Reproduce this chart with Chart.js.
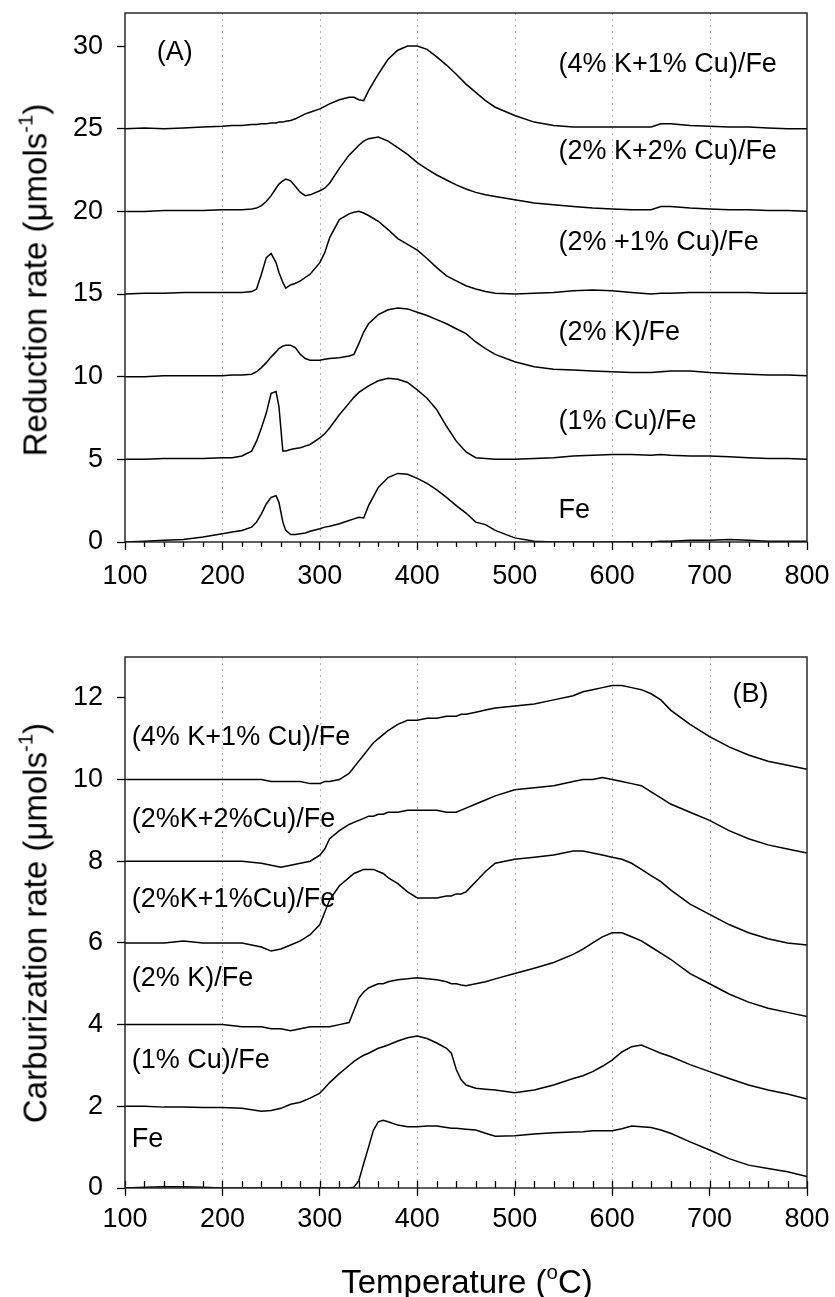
<!DOCTYPE html>
<html>
<head>
<meta charset="utf-8">
<script src="https://cdn.jsdelivr.net/npm/chart.js@4.4.1/dist/chart.umd.min.js"></script>
<style>
  body { margin:0; background:#fff; width:835px; height:1297px; position:relative; overflow:hidden;
         font-family:"Liberation Sans", Arial, sans-serif; }
  canvas { position:absolute; left:0; }
  #chartA { top:0; }
  #chartB { top:600px; }
  .title { position:absolute; white-space:nowrap; color:#000; font-size:33px; line-height:1;
           transform:translate(-50%,-50%); }
  .title sup { font-size:0.62em; position:relative; top:-0.15em; vertical-align:top; }
  .ytitle { transform:translate(-50%,-50%) rotate(-90deg); }
</style>
</head>
<body>
<canvas id="chartA" width="835" height="600"></canvas>
<canvas id="chartB" width="835" height="697"></canvas>
<div class="title ytitle" style="left:35px;top:280px;">Reduction rate (&mu;mols<sup>-1</sup>)</div>
<div class="title ytitle" style="left:35px;top:923px;">Carburization rate (&mu;mols<sup>-1</sup>)</div>
<div class="title" style="left:467px;top:1281px;">Temperature (<sup>o</sup>C)</div>
<script>
// panel A: reduction rate, curves offset by 5
var tempsA = [100,120,140,160,180, 200,210,220,230,235, 240,245,250,255,258, 262,265,270,275,280,
              285,290,300,305,310, 320,330,335,340,345, 350,360,370,380,390, 400,410,420,430,440,
              450,460,470,480,500, 520,540,560,580,600, 620,640,650,660,680, 700,720,740,760,780, 800];
var redK4Cu1 = [25.0,25.05,25.0,25.05,25.1, 25.15,25.2,25.2,25.25,25.25, 25.3,25.3,25.35,25.35,25.4,
                25.4,25.45,25.5,25.6,25.75, 25.9,26.0,26.2,26.35,26.5, 26.75,26.9,26.9,26.75,26.7,
                27.3,28.3,29.2,29.75,30.0, 30.0,29.8,29.35,28.85,28.3, 27.7,27.2,26.7,26.3,25.8,
                25.4,25.2,25.1,25.1,25.1, 25.1,25.1,25.3,25.3,25.2, 25.15,25.1,25.1,25.05,25.0, 25.0];
var redK2Cu2 = [20.0,20.0,20.05,20.05,20.05, 20.1,20.1,20.1,20.15,20.2, 20.35,20.6,20.95,21.4,21.65,
                21.85,21.95,21.85,21.5,21.15, 20.95,21.0,21.25,21.4,21.7, 22.6,23.4,23.7,24.0,24.25,
                24.4,24.5,24.25,23.85,23.45, 22.95,22.55,22.2,21.9,21.6, 21.35,21.15,21.0,20.9,20.7,
                20.5,20.4,20.3,20.2,20.15, 20.1,20.1,20.3,20.3,20.2, 20.15,20.1,20.1,20.05,20.05, 20.0];
var redK2Cu1 = [15.0,15.05,15.05,15.1,15.1, 15.1,15.1,15.1,15.15,15.3, 16.2,17.2,17.45,16.9,16.3,
                15.7,15.35,15.55,15.65,15.8, 16.0,16.2,16.9,17.5,18.4, 19.5,19.85,19.95,20.0,19.9,
                19.75,19.4,18.9,18.35,18.0, 17.65,17.15,16.6,16.1,15.8, 15.5,15.3,15.15,15.05,15.0,
                15.05,15.1,15.2,15.25,15.2, 15.1,15.0,15.05,15.05,15.1, 15.1,15.1,15.1,15.05,15.05, 15.05];
var redK2 = [10.0,10.0,10.05,10.05,10.05, 10.05,10.1,10.1,10.15,10.3, 10.55,10.85,11.2,11.5,11.7,
             11.85,11.9,11.9,11.75,11.35, 11.1,11.0,11.0,11.05,11.1, 11.15,11.25,11.35,12.0,12.7,
             13.2,13.75,14.05,14.15,14.1, 13.9,13.7,13.45,13.2,12.9, 12.6,12.1,11.7,11.35,10.9,
             10.6,10.45,10.4,10.35,10.3, 10.25,10.25,10.3,10.35,10.35, 10.25,10.2,10.15,10.1,10.1, 10.05];
var redCu1 = [5.0,5.0,5.05,5.05,5.05, 5.1,5.1,5.2,5.5,6.1, 6.9,7.8,9.0,9.1,8.2,
              5.5,5.5,5.6,5.65,5.7, 5.8,5.9,6.3,6.55,6.9, 7.7,8.4,8.75,9.05,9.25,
              9.45,9.75,9.9,9.85,9.65, 9.2,8.7,8.0,7.0,6.1, 5.45,5.1,5.05,5.0,5.0,
              5.05,5.1,5.2,5.25,5.3, 5.3,5.25,5.3,5.25,5.2, 5.2,5.15,5.1,5.05,5.05, 5.0];
var redFe = [0.0,0.05,0.1,0.15,0.3, 0.5,0.6,0.7,0.9,1.2, 1.7,2.3,2.7,2.8,2.4,
             1.2,0.7,0.45,0.45,0.5, 0.55,0.65,0.8,0.9,0.95, 1.1,1.3,1.4,1.5,1.45,
             2.2,3.3,3.9,4.15,4.1, 3.85,3.55,3.15,2.7,2.2, 1.75,1.2,1.05,0.7,0.25,
             0.05,0.0,0.0,0.0,0.0, 0.0,0.0,0.05,0.05,0.1, 0.1,0.15,0.1,0.05,0.05, 0.05];

// panel B: carburization rate, curves offset by 2
var tempsB = [100,120,140,160,180, 200,220,240,250,260, 270,280,290,300,305, 310,320,330,335,340,
              345,350,355,360,365, 370,380,390,400,410, 420,430,435,440,445, 450,460,470,480,500,
              520,540,560,570,580, 590,600,610,620,630, 640,650,660,680,700, 720,740,760,780,800];
var carK4Cu1 = [10.0,10.0,10.0,10.0,10.0, 10.0,10.0,10.0,9.95,9.95, 9.95,9.95,9.9,9.9,9.95,
                9.95,10.0,10.15,10.3,10.45, 10.6,10.75,10.9,11.0,11.1, 11.2,11.35,11.45,11.45,11.5,
                11.5,11.55,11.55,11.55,11.6, 11.6,11.65,11.7,11.75,11.8, 11.85,11.95,12.05,12.15,12.2,
                12.25,12.3,12.3,12.25,12.2, 12.1,11.95,11.7,11.35,11.05, 10.8,10.6,10.45,10.35,10.25];
var carK2Cu2 = [8.0,8.0,8.0,8.0,8.0, 8.0,8.0,7.95,7.9,7.85, 7.9,7.95,8.0,8.15,8.3,
                8.55,8.75,8.9,8.95,9.0, 9.05,9.1,9.1,9.15,9.15, 9.2,9.2,9.25,9.25,9.25,
                9.25,9.2,9.2,9.2,9.25, 9.3,9.4,9.5,9.6,9.75, 9.8,9.85,9.95,10.0,10.0,
                10.05,10.0,9.95,9.9,9.85, 9.7,9.55,9.4,9.2,9.0, 8.75,8.55,8.4,8.3,8.2];
var carK2Cu1 = [6.0,6.0,6.0,6.05,6.0, 6.0,6.0,5.9,5.8,5.85, 5.95,6.05,6.2,6.45,6.75,
                7.05,7.4,7.6,7.7,7.75, 7.8,7.8,7.8,7.75,7.7, 7.6,7.45,7.25,7.1,7.1,
                7.1,7.15,7.15,7.2,7.2, 7.25,7.5,7.75,7.95,8.05, 8.1,8.15,8.25,8.25,8.2,
                8.15,8.1,8.05,7.95,7.8, 7.65,7.5,7.3,6.95,6.7, 6.45,6.25,6.1,6.0,5.95];
var carK2 = [4.0,4.0,4.0,4.0,4.0, 4.0,3.95,3.95,3.9,3.9, 3.85,3.9,3.95,3.95,3.95,
             3.95,4.0,4.05,4.35,4.65, 4.8,4.9,4.95,5.0,5.0, 5.05,5.1,5.12,5.15,5.12,
             5.1,5.05,5.0,5.0,4.97, 4.95,5.0,5.05,5.12,5.25, 5.38,5.52,5.72,5.85,6.0,
             6.15,6.25,6.25,6.15,6.05, 5.9,5.75,5.6,5.25,5.0, 4.75,4.55,4.4,4.3,4.2];
var carCu1 = [2.0,2.0,1.98,1.98,1.97, 1.97,1.95,1.88,1.9,1.95, 2.05,2.1,2.2,2.32,2.45,
              2.58,2.8,3.0,3.1,3.18, 3.25,3.3,3.36,3.42,3.46, 3.5,3.6,3.68,3.72,3.66,
              3.55,3.42,3.3,2.9,2.65, 2.52,2.44,2.42,2.4,2.33, 2.4,2.52,2.68,2.75,2.85,
              2.98,3.13,3.33,3.46,3.5, 3.4,3.3,3.22,3.02,2.85, 2.68,2.52,2.4,2.3,2.18];
var carFe = [0.0,0.02,0.03,0.03,0.02, 0.0,0.0,0.0,0.0,0.0, 0.0,0.0,0.0,0.0,0.0,
             0.0,0.0,0.0,0.02,0.18, 0.6,1.0,1.42,1.62,1.66, 1.62,1.54,1.5,1.5,1.52,
             1.52,1.48,1.46,1.46,1.45, 1.44,1.42,1.34,1.27,1.28, 1.32,1.35,1.37,1.38,1.4,
             1.4,1.4,1.45,1.52,1.5, 1.48,1.42,1.34,1.13,0.93, 0.72,0.56,0.48,0.4,0.28];

var namesA = ["(4% K+1% Cu)/Fe", "(2% K+2% Cu)/Fe", "(2% +1% Cu)/Fe", "(2% K)/Fe", "(1% Cu)/Fe", "Fe"];
var namesB = ["(4% K+1% Cu)/Fe", "(2%K+2%Cu)/Fe", "(2%K+1%Cu)/Fe", "(2% K)/Fe", "(1% Cu)/Fe", "Fe"];
var xTicks = [100, 200, 300, 400, 500, 600, 700, 800];
var yTicksA = [0, 5, 10, 15, 20, 25, 30];
var yTicksB = [0, 2, 4, 6, 8, 10, 12];

// where the curve names sit, in data units
var spotsA = [[545, 28.9], [545, 23.6], [545, 18.1], [545, 12.7], [545, 7.3], [545, 1.9]];
var spotsB = [[107, 11.04], [107, 9.03], [107, 7.07], [107, 5.12], [107, 3.13], [107, 1.18]];

var FONT = '"Liberation Sans", Arial, sans-serif';
Chart.defaults.font.family = FONT;
Chart.defaults.color = '#000';
Chart.defaults.animation = false;

var framePlugin = {
    id: 'frame',
    beforeDatasetsDraw: function(chart){
        var ctx = chart.ctx, a = chart.chartArea, xs = chart.scales.x;
        ctx.save();
        ctx.strokeStyle = '#b0b0b0';
        ctx.lineWidth = 1;
        ctx.setLineDash([2, 4]);
        for(var i = 1; i < xTicks.length - 1; i++){
            var px = Math.round(xs.getPixelForValue(xTicks[i])) + 0.5;
            ctx.beginPath(); ctx.moveTo(px, a.top); ctx.lineTo(px, a.bottom); ctx.stroke();
        }
        ctx.restore();
    },
    afterDraw: function(chart, args, opts){
        var ctx = chart.ctx, a = chart.chartArea, xs = chart.scales.x, ys = chart.scales.y;
        ctx.save();
        ctx.strokeStyle = '#000';
        ctx.lineWidth = 1.3;
        // minor ticks every 20 degrees
        for(var t = 100; t <= 800; t += 20){
            if(t % 100 == 0 && !opts.minorOnMajor) continue;
            var px = Math.round(xs.getPixelForValue(t)) + 0.5;
            ctx.beginPath(); ctx.moveTo(px, a.bottom); ctx.lineTo(px, a.bottom + opts.minorLen); ctx.stroke();
        }
        ctx.lineWidth = 1.4;
        ctx.strokeStyle = '#1a1a1a';
        ctx.strokeRect(a.left, a.top, a.right - a.left, a.bottom - a.top);
        // curve names and panel tag
        ctx.fillStyle = '#000';
        ctx.font = '27px ' + FONT;
        ctx.textBaseline = 'middle';
        ctx.textAlign = 'left';
        for(var i = 0; i < opts.names.length; i++){
            ctx.fillText(opts.names[i], xs.getPixelForValue(opts.spots[i][0]), ys.getPixelForValue(opts.spots[i][1]));
        }
        ctx.textAlign = 'center';
        ctx.fillText(opts.tag, xs.getPixelForValue(opts.tagSpot[0]), ys.getPixelForValue(opts.tagSpot[1]));
        ctx.restore();
    }
};

function makeChart(id, temps, series, yMax, yTicks, o){
    var datasets = [];
    for(const s of series){
        datasets.push({
            data: temps.map(function(t, i){ return {x: t, y: s[i]}; }),
            borderColor: '#000',
            borderWidth: 1.5,
            pointRadius: 0,
            fill: false,
            tension: 0
        });
    }
    return new Chart(id, {
        type: 'line',
        data: {datasets: datasets},
        plugins: [framePlugin],
        options: {
            responsive: false,
            layout: {padding: {left: 0, right: 28, top: o.top, bottom: 0}},
            scales: {
                x: {
                    type: 'linear', min: 100, max: 800,
                    afterBuildTicks: function(s){ s.ticks = xTicks.map(function(v){ return {value: v}; }); },
                    afterFit: function(s){ s.height = o.xHeight; s.paddingLeft = 0; s.paddingRight = 0; },
                    ticks: {font: {size: 27}, padding: o.xPad, maxRotation: 0, autoSkip: false},
                    grid: {drawOnChartArea: false, drawTicks: true, tickLength: 8, tickColor: '#000', tickWidth: 1.3},
                    border: {display: false}
                },
                y: {
                    min: 0, max: yMax,
                    afterBuildTicks: function(s){ s.ticks = yTicks.map(function(v){ return {value: v}; }); },
                    afterFit: function(s){ s.width = 125; s.paddingTop = 0; s.paddingBottom = 0; },
                    ticks: {font: {size: 27}, padding: 14},
                    grid: {drawOnChartArea: false, drawTicks: true, tickLength: 8, tickColor: '#000', tickWidth: 1.3},
                    border: {display: false}
                }
            },
            plugins: {
                legend: {display: false},
                tooltip: {enabled: false},
                frame: o.frame
            }
        }
    });
}

makeChart('chartA', tempsA, [redK4Cu1, redK2Cu2, redK2Cu1, redK2, redCu1, redFe], 32, yTicksA, {
    top: 13, xHeight: 58, xPad: 10,
    frame: {names: namesA, spots: spotsA, tag: '(A)', tagSpot: [151, 29.6], minorLen: 5, minorOnMajor: false}
});
makeChart('chartB', tempsB, [carK4Cu1, carK2Cu2, carK2Cu1, carK2, carCu1, carFe], 13, yTicksB, {
    top: 57, xHeight: 109, xPad: 7,
    frame: {names: namesB, spots: spotsB, tag: '(B)', tagSpot: [742, 12.09], minorLen: -7, minorOnMajor: true}
});
</script>
</body>
</html>
